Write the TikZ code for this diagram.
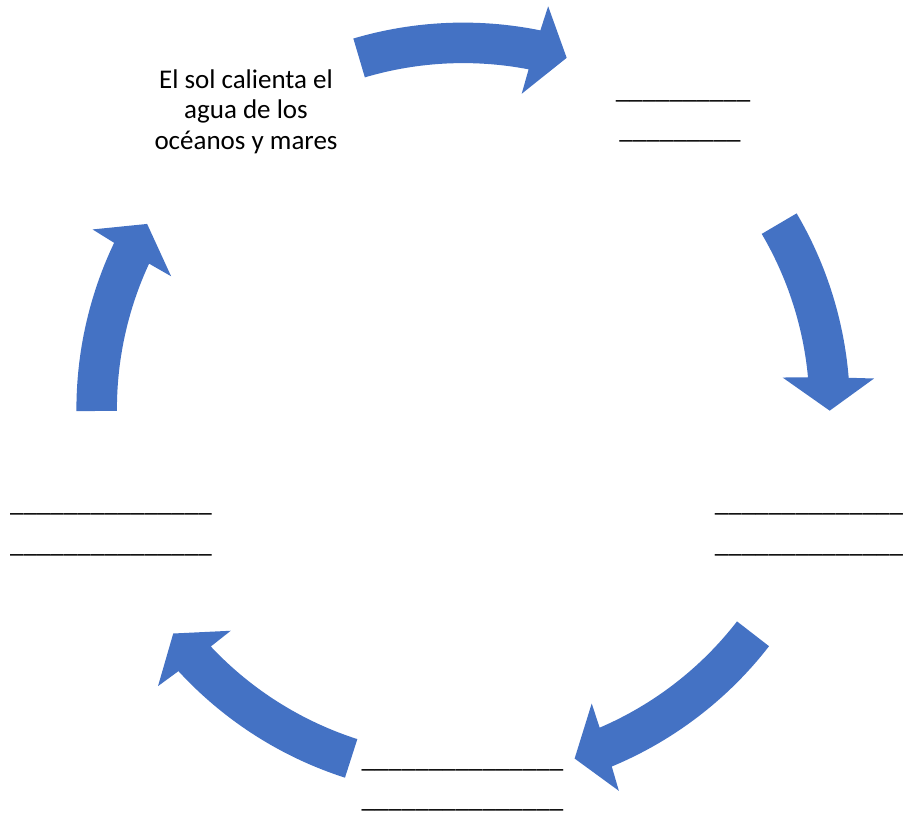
\documentclass[tikz,border=0pt]{standalone}
\usepackage{fontspec}
\setmainfont{Carlito}
\definecolor{arrowblue}{HTML}{4472C4}
% #1 = tail angle, #2 = tip angle (arrow runs clockwise around the centre)
\newcommand\cycarrow[2]{%
  \fill[blockarrow] (#1:386.8pt)
    arc[start angle=#1, end angle={#2+4.89}, radius=386.8pt]
    -- ({#2+4.5}:412pt) -- (#2:366.5pt) -- ({#2+5.9}:321pt)
    -- ({#2+5.51}:346.3pt)
    arc[start angle={#2+5.51}, end angle=#1, radius=346.3pt] -- cycle;}
\begin{document}
\begin{tikzpicture}[x=1pt,y=1pt,
  lbl/.style={anchor=base, inner sep=0pt, font=\fontsize{27}{31}\selectfont, text=black},
  blockarrow/.style={fill=arrowblue, draw=none}]
\useasboundingbox (0,0) rectangle (907,813);
\begin{scope}[shift={(463.2,403.6)}]
  \cycarrow{106.5}{73.6}
  \cycarrow{30.45}{-0.2}
  \cycarrow{-37.75}{-72.3}
  \cycarrow{-107.8}{-142.3}
  \cycarrow{180.25}{149.6}
\end{scope}
% step 1
\node[lbl] (a1) at (246,724.7) {El sol calienta el};
\node[lbl] (a2) at (246,694.3) {agua de los};
\node[lbl] (a3) at (246,663.7) {océanos y mares};
% step 2
\node[lbl] (b1) at (683,714.8) {\_\_\_\_\_\_\_\_\_\_};
\node[lbl] (b2) at (680,674.1) {\_\_\_\_\_\_\_\_\_};
% step 3
\node[lbl] (c1) at (809,301.3) {\_\_\_\_\_\_\_\_\_\_\_\_\_\_};
\node[lbl] (c2) at (809,260.1) {\_\_\_\_\_\_\_\_\_\_\_\_\_\_};
% step 4
\node[lbl] (d1) at (462.4,45.8) {\_\_\_\_\_\_\_\_\_\_\_\_\_\_\_};
\node[lbl] (d2) at (462.4,5.1) {\_\_\_\_\_\_\_\_\_\_\_\_\_\_\_};
% step 5
\node[lbl] (e1) at (111,301.3) {\_\_\_\_\_\_\_\_\_\_\_\_\_\_\_};
\node[lbl] (e2) at (111,260.1) {\_\_\_\_\_\_\_\_\_\_\_\_\_\_\_};
\end{tikzpicture}
\end{document}
